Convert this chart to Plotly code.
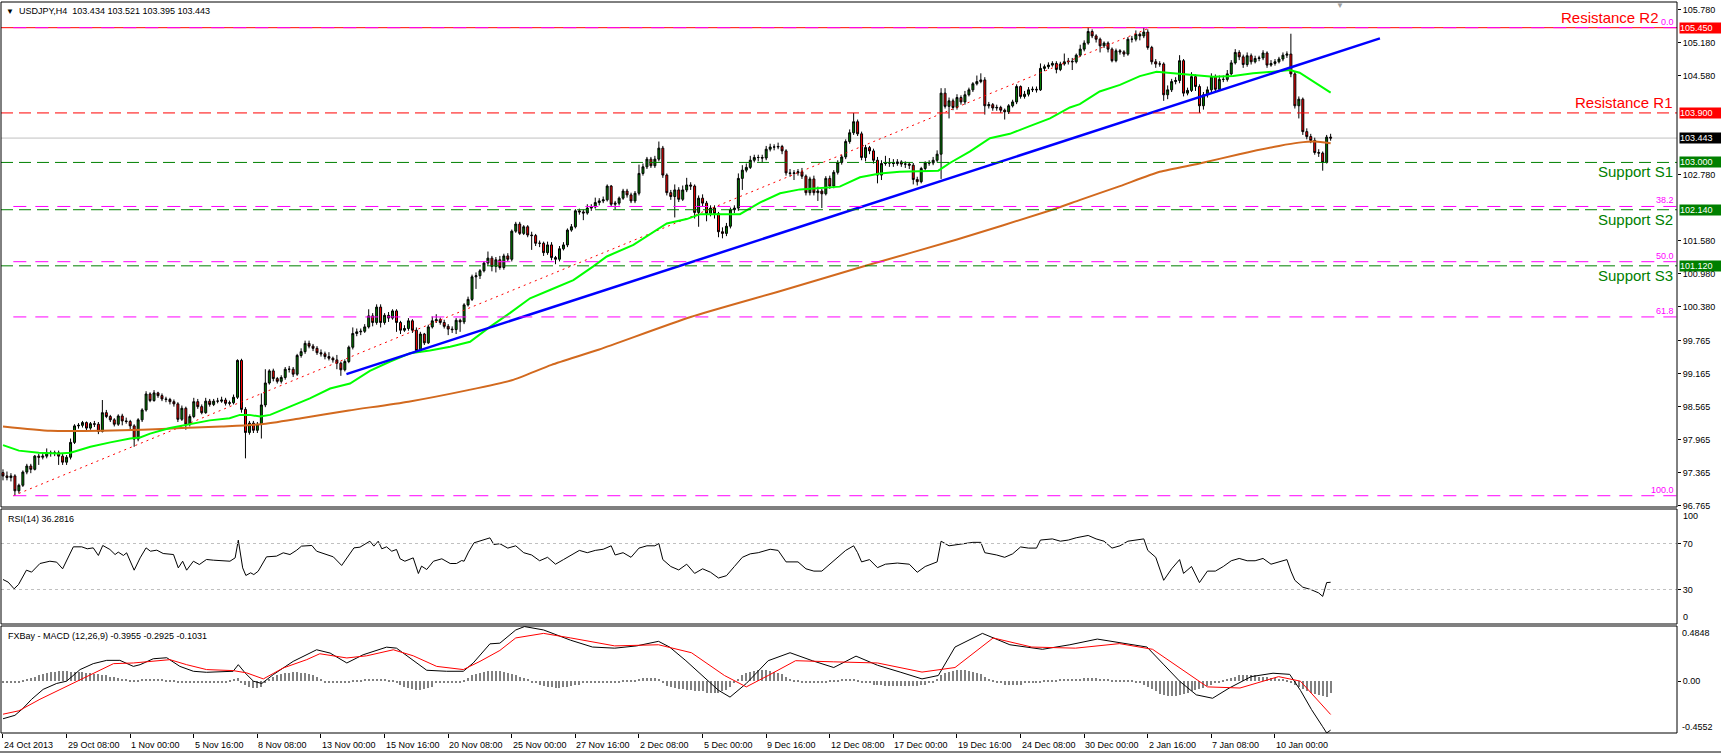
import plotly.graph_objects as go

# ---------------- data ----------------
first_open = 97.36
closes = [
    97.30, 97.27, 97.30, 97.03, 97.13, 97.37, 97.48, 97.42, 97.66, 97.64,
    97.66, 97.72, 97.71, 97.72, 97.66, 97.55, 97.64, 97.91, 98.21, 98.22,
    98.27, 98.17, 98.25, 98.24, 98.11, 98.45, 98.38, 98.32, 98.24, 98.39,
    98.30, 98.29, 98.21, 97.97, 98.32, 98.50, 98.79, 98.67, 98.81, 98.76,
    98.70, 98.69, 98.65, 98.61, 98.33, 98.53, 98.24, 98.38, 98.65, 98.56,
    98.45, 98.66, 98.60, 98.66, 98.66, 98.68, 98.62, 98.63, 98.73, 99.40,
    98.51, 98.09, 98.26, 98.13, 98.24, 98.59, 98.99, 99.21, 99.07, 99.02,
    99.09, 99.24, 99.24, 99.15, 99.49, 99.56, 99.71, 99.66, 99.62, 99.54,
    99.52, 99.47, 99.44, 99.41, 99.35, 99.23, 99.38, 99.64, 99.89, 99.92,
    99.93, 100.01, 100.21, 100.09, 100.37, 100.09, 100.22, 100.17, 100.30, 100.09,
    99.95, 99.98, 100.12, 99.95, 99.58, 99.88, 99.72, 100.01, 100.12, 100.14,
    100.09, 100.02, 99.97, 99.96, 100.13, 100.10, 100.41, 100.51, 100.92, 100.94,
    101.03, 101.17, 101.26, 101.11, 101.23, 101.09, 101.30, 101.24, 101.75, 101.88,
    101.71, 101.83, 101.68, 101.67, 101.53, 101.53, 101.36, 101.50, 101.27, 101.24,
    101.43, 101.50, 101.77, 101.83, 102.12, 102.10, 102.08, 102.17, 102.19, 102.27,
    102.30, 102.32, 102.57, 102.24, 102.26, 102.35, 102.48, 102.41, 102.30, 102.44,
    102.80, 102.92, 103.06, 102.94, 103.06, 103.26, 102.77, 102.45, 102.38, 102.50,
    102.33, 102.50, 102.59, 102.57, 102.09, 102.35, 102.26, 102.07, 102.17, 102.07,
    101.74, 101.71, 101.84, 102.14, 102.17, 102.71, 102.86, 102.91, 103.04, 103.09,
    103.09, 103.08, 103.24, 103.28, 103.28, 103.29, 103.21, 102.81, 102.80, 102.81,
    102.83, 102.75, 102.45, 102.70, 102.45, 102.48, 102.43, 102.71, 102.57, 102.82,
    103.00, 103.10, 103.38, 103.54, 103.74, 103.52, 103.09, 103.27, 103.21, 103.04,
    102.77, 102.98, 102.99, 102.99, 102.98, 103.01, 102.97, 102.97, 102.95, 102.69,
    102.65, 102.89, 102.99, 102.99, 103.04, 103.15, 104.26, 104.02, 104.12, 104.00,
    104.18, 104.10, 104.23, 104.32, 104.43, 104.47, 104.50, 104.03, 104.05, 103.99,
    104.00, 103.95, 103.92, 104.03, 104.10, 104.38, 104.20, 104.24, 104.32, 104.33,
    104.32, 104.71, 104.74, 104.77, 104.80, 104.69, 104.79, 104.83, 104.84, 104.83,
    104.95, 105.06, 105.17, 105.38, 105.30, 105.24, 105.12, 105.17, 105.06, 104.85,
    105.03, 105.01, 104.97, 105.24, 105.24, 105.33, 105.30, 105.37, 105.09, 104.83,
    104.79, 104.79, 104.23, 104.32, 104.47, 104.49, 104.85, 104.26, 104.31, 104.56,
    104.38, 104.03, 104.23, 104.32, 104.56, 104.33, 104.51, 104.51, 104.61, 104.81,
    105.00, 104.92, 104.78, 104.94, 104.83, 104.89, 104.90, 104.99, 104.77, 104.80,
    104.83, 104.88, 104.95, 104.97, 104.61, 104.03, 104.15, 103.56, 103.47, 103.40,
    103.18, 103.17, 103.00, 103.46, 103.443,
]
highs = [
    97.42, 97.38, 97.35, 97.33, 97.16, 97.40, 97.52, 97.52, 97.68, 97.70,
    97.72, 97.80, 97.76, 97.76, 97.76, 97.70, 97.68, 97.98, 98.24, 98.26,
    98.30, 98.29, 98.28, 98.30, 98.28, 98.68, 98.50, 98.41, 98.35, 98.42,
    98.43, 98.36, 98.32, 98.24, 98.35, 98.53, 98.84, 98.82, 98.86, 98.83,
    98.80, 98.74, 98.72, 98.69, 98.64, 98.58, 98.56, 98.42, 98.72, 98.70,
    98.60, 98.72, 98.70, 98.70, 98.72, 98.74, 98.72, 98.67, 98.78, 99.42,
    99.43, 98.55, 98.30, 98.30, 98.28, 98.80, 99.24, 99.24, 99.25, 99.10,
    99.13, 99.28, 99.30, 99.28, 99.52, 99.62, 99.76, 99.76, 99.70, 99.66,
    99.60, 99.56, 99.55, 99.47, 99.50, 99.38, 99.42, 99.67, 100.00, 99.98,
    99.98, 100.06, 100.33, 100.26, 100.42, 100.42, 100.26, 100.28, 100.33, 100.33,
    100.12, 100.04, 100.17, 100.15, 100.00, 99.92, 99.90, 100.05, 100.20, 100.24,
    100.18, 100.14, 100.06, 100.02, 100.17, 100.16, 100.44, 100.56, 100.96, 101.00,
    101.06, 101.20, 101.38, 101.30, 101.28, 101.30, 101.34, 101.35, 101.78, 101.92,
    101.92, 101.86, 101.86, 101.74, 101.70, 101.58, 101.56, 101.56, 101.55, 101.30,
    101.48, 101.55, 101.80, 101.88, 102.15, 102.16, 102.14, 102.24, 102.24, 102.36,
    102.35, 102.38, 102.60, 102.59, 102.30, 102.38, 102.52, 102.52, 102.45, 102.48,
    102.96, 102.98, 103.10, 103.10, 103.12, 103.38, 103.30, 102.80, 102.50, 102.60,
    102.55, 102.58, 102.72, 102.64, 102.60, 102.40, 102.42, 102.30, 102.22, 102.22,
    102.10, 101.82, 101.90, 102.18, 102.22, 102.80, 102.95, 102.98, 103.12, 103.14,
    103.14, 103.14, 103.30, 103.34, 103.33, 103.36, 103.32, 103.24, 102.88, 102.86,
    102.88, 102.90, 102.78, 102.74, 102.76, 102.56, 102.52, 102.75, 102.76, 102.86,
    103.04, 103.14, 103.42, 103.60, 103.90, 103.78, 103.56, 103.32, 103.30, 103.25,
    103.10, 103.04, 103.12, 103.08, 103.06, 103.06, 103.04, 103.02, 103.00, 102.99,
    102.74, 102.92, 103.02, 103.04, 103.10, 103.22, 104.35, 104.35, 104.18, 104.16,
    104.24, 104.22, 104.30, 104.36, 104.46, 104.58, 104.62, 104.55, 104.10, 104.08,
    104.05, 104.03, 103.98, 104.06, 104.14, 104.42, 104.40, 104.30, 104.37, 104.38,
    104.38, 104.80, 104.78, 104.82, 104.84, 104.84, 104.83, 104.98, 104.90, 104.90,
    104.98, 105.14, 105.22, 105.45, 105.42, 105.33, 105.27, 105.20, 105.20, 105.09,
    105.07, 105.06, 105.04, 105.28, 105.30, 105.40, 105.36, 105.45, 105.42, 105.12,
    104.88, 104.84, 104.82, 104.40, 104.52, 104.55, 104.95, 104.88, 104.36, 104.64,
    104.60, 104.42, 104.28, 104.38, 104.62, 104.60, 104.58, 104.58, 104.68, 104.86,
    105.06, 105.04, 104.96, 105.00, 104.98, 104.94, 104.94, 105.04, 105.02, 104.86,
    104.88, 104.92, 105.00, 105.02, 105.34, 104.65, 104.20, 104.18, 103.62, 103.52,
    103.45, 103.24, 103.20, 103.50, 103.521,
]
lows = [
    97.22, 97.22, 97.20, 96.94, 96.98, 97.10, 97.33, 97.35, 97.40, 97.50,
    97.60, 97.62, 97.65, 97.66, 97.50, 97.50, 97.50, 97.60, 97.88, 98.16,
    98.18, 98.13, 98.14, 98.19, 98.06, 98.09, 98.35, 98.28, 98.20, 98.21,
    98.22, 98.25, 98.15, 97.83, 97.93, 98.28, 98.47, 98.64, 98.65, 98.72,
    98.66, 98.64, 98.60, 98.56, 98.28, 98.30, 98.14, 98.20, 98.35, 98.52,
    98.42, 98.43, 98.56, 98.57, 98.62, 98.63, 98.58, 98.58, 98.60, 98.70,
    98.45, 97.62, 98.05, 98.08, 98.08, 97.98, 98.55, 98.96, 99.02, 98.98,
    98.98, 99.05, 99.18, 99.10, 99.12, 99.45, 99.52, 99.62, 99.57, 99.50,
    99.47, 99.42, 99.40, 99.36, 99.24, 99.12, 99.20, 99.35, 99.60, 99.84,
    99.86, 99.90, 99.98, 100.02, 100.05, 100.00, 100.05, 100.10, 100.14, 99.92,
    99.88, 99.92, 99.94, 99.90, 99.57, 99.55, 99.68, 99.70, 99.98, 100.08,
    100.05, 99.98, 99.86, 99.90, 99.88, 99.92, 100.06, 100.38, 100.48, 100.70,
    100.88, 101.00, 101.12, 101.02, 101.00, 101.05, 101.05, 101.20, 101.20, 101.72,
    101.68, 101.68, 101.64, 101.41, 101.48, 101.46, 101.30, 101.32, 101.22, 101.15,
    101.20, 101.40, 101.46, 101.74, 101.80, 102.05, 101.95, 102.05, 102.12, 102.16,
    102.22, 102.26, 102.29, 102.20, 102.14, 102.22, 102.32, 102.36, 102.26, 102.26,
    102.40, 102.76, 102.88, 102.90, 102.90, 103.02, 102.72, 102.40, 102.32, 102.00,
    102.28, 102.30, 102.46, 102.50, 101.98, 101.83, 102.20, 101.93, 102.02, 101.98,
    101.64, 101.62, 101.66, 101.80, 102.08, 102.12, 102.50, 102.82, 102.88, 103.00,
    103.02, 103.00, 103.04, 103.20, 103.22, 103.24, 103.15, 102.76, 102.74, 102.68,
    102.76, 102.70, 102.40, 102.40, 102.40, 102.30, 102.17, 102.40, 102.52, 102.53,
    102.78, 102.96, 103.06, 103.34, 103.50, 103.48, 103.04, 103.02, 103.15, 102.98,
    102.62, 102.68, 102.94, 102.92, 102.92, 102.94, 102.92, 102.90, 102.88, 102.60,
    102.58, 102.62, 102.85, 102.94, 102.95, 103.00, 102.70, 103.98, 103.80, 103.95,
    103.96, 104.05, 104.05, 104.20, 104.28, 104.40, 104.44, 103.87, 103.98, 103.94,
    103.94, 103.90, 103.78, 103.88, 104.00, 104.06, 104.16, 104.16, 104.20, 104.28,
    104.27, 104.30, 104.66, 104.70, 104.74, 104.62, 104.66, 104.76, 104.78, 104.68,
    104.80, 104.92, 105.02, 105.14, 105.26, 105.18, 105.00, 105.08, 105.00, 104.82,
    104.82, 104.96, 104.92, 104.94, 105.18, 105.20, 105.22, 105.26, 105.05, 104.78,
    104.72, 104.74, 104.12, 104.15, 104.28, 104.42, 104.44, 104.20, 104.22, 104.28,
    104.30, 103.90, 103.96, 104.18, 104.28, 104.28, 104.30, 104.46, 104.47, 104.58,
    104.78, 104.86, 104.72, 104.74, 104.78, 104.80, 104.84, 104.86, 104.72, 104.74,
    104.76, 104.80, 104.84, 104.90, 104.55, 103.98, 103.80, 103.50, 103.42, 103.35,
    103.14, 103.10, 102.85, 102.98, 103.395,
]
opens = [first_open] + closes[:-1]

# moving averages (read at sample bars)
ma_green_idx = [0, 4, 9, 14, 17, 22, 27, 32, 34.5, 37, 42, 47, 52, 57, 59.6, 62, 64.7, 67.2, 69.7,
                72.2, 77.2, 82.3, 87.3, 92.3, 97.4, 102.4, 107.4, 112.5, 117.5, 122.5, 127.5, 132.6,
                137.6, 143.5, 148.5, 151.9, 158.6, 163.6, 167, 172, 175.4, 180.4, 185.4, 190.4,
                195.5, 200.5, 205.5, 210.5, 215.6, 220.6, 225.6, 230.7, 235.3, 238.2, 243.3, 248.3,
                253.3, 258.3, 263.4, 268.4, 270.9, 275.9, 281, 286, 290.2, 294.4, 299.4, 304.4,
                309.5, 314.5, 319.5, 323.7, 326.2, 329.6, 333, 334]
ma_green_val = [97.86, 97.76, 97.72, 97.71, 97.72, 97.83, 97.91, 97.98, 98.00, 98.07, 98.17, 98.24,
                98.31, 98.35, 98.41, 98.41, 98.38, 98.41, 98.49, 98.56, 98.71, 98.89, 98.98, 99.21,
                99.38, 99.53, 99.58, 99.65, 99.74, 100.01, 100.26, 100.53, 100.68, 100.86, 101.11,
                101.29, 101.50, 101.74, 101.89, 101.97, 102.06, 102.06, 102.06, 102.27, 102.44,
                102.51, 102.53, 102.56, 102.73, 102.80, 102.83, 102.84, 102.85, 102.99, 103.20,
                103.44, 103.52, 103.66, 103.80, 104.00, 104.06, 104.29, 104.41, 104.57, 104.65,
                104.62, 104.59, 104.56, 104.57, 104.62, 104.65, 104.68, 104.63, 104.47, 104.32, 104.27]
ma_orange_idx = [0, 12, 25, 35, 45, 55, 65, 75, 87, 102, 117, 128, 138, 150, 173, 195, 217, 240,
                 264, 271, 281, 291, 301, 311, 321, 326, 330, 334]
ma_orange_val = [98.20, 98.12, 98.12, 98.14, 98.17, 98.20, 98.24, 98.35, 98.49, 98.65, 98.86, 99.04,
                 99.32, 99.60, 100.19, 100.65, 101.12, 101.60, 102.14, 102.32, 102.57, 102.83,
                 102.98, 103.15, 103.30, 103.36, 103.38, 103.35]

# RSI(14) read at sample bars
rsi_idx = [0, 1.3, 2.8, 3.9, 5.9, 7.2, 9.3, 11.8, 13.5, 15, 17.7, 19.8, 21.2, 22.7, 24, 25.1, 26.9,
           28.2, 29, 30.3, 31.1, 33, 34.5, 36, 37.1, 38.7, 40.3, 42.9, 44.1, 45.2, 46.2, 47.9, 49.4,
           51.2, 52.9, 57.1, 58.4, 59.2, 60.3, 61.1, 62.3, 63.1, 64.2, 66.3, 68.8, 70.5, 72.2, 73.9,
           75.1, 77.7, 78.9, 81.4, 83.1, 85.2, 86.9, 88.3, 89.8, 92.3, 93.3, 94.4, 95.3, 96.5, 97.8,
           99, 99.9, 101.1, 103.2, 104.5, 105.3, 106.6, 108.3, 110.4, 112.5, 114.1, 115.4, 116,
           117.1, 118.5, 122.5, 123.5, 125,
           127, 129, 131, 133, 135, 137, 139, 141, 143, 145, 147, 149, 151, 153, 154, 156, 158, 160,
           162, 164, 165, 166, 168, 170, 172, 174, 176, 178, 180, 182, 184, 186, 188, 190, 193, 195,
           197, 200, 202, 204, 206, 208, 210, 212, 214, 215, 216, 218, 220, 222, 225, 228, 230, 232,
           235, 236, 238, 240, 242, 244, 246, 247, 250, 252, 254, 256, 258, 260, 261, 264, 266, 268,
           270, 272, 273, 275, 277, 279, 281, 283, 285, 287, 288, 290, 292, 294, 296, 297, 299, 301,
           303, 305, 307, 309, 311, 313, 315, 317, 319, 321, 323, 324, 325, 327, 329, 331, 332, 333, 334]
rsi_val = [38.7, 36.4, 30.6, 34.3, 46.8, 45.1, 52.6, 54.6, 53.8, 48.0, 67.1, 67.1, 65.4, 66.2, 59.6,
           68.3, 64.8, 60.4, 62.5, 59.6, 61.9, 46.8, 57.5, 66.2, 63.3, 64.2, 61.3, 60.4, 48.8, 54.6,
           46.8, 54.6, 51.7, 56.1, 55.5, 54.6, 57.5, 72.9, 48.8, 42.2, 44.5, 43.0, 45.9, 58.4, 59.0,
           61.9, 60.4, 64.2, 67.7, 68.3, 63.3, 60.4, 58.4, 50.9, 59.0, 66.2, 66.8, 72.0, 67.7, 72.0,
           65.4, 67.1, 63.3, 64.8, 56.7, 54.6, 57.5, 43.9, 50.3, 47.4, 54.6, 56.7, 52.6, 52.6, 55.2,
           54.6, 62.5, 70.6, 74.9, 69.1, 69.8,
           66, 68, 62, 60, 55, 58, 52, 56, 60, 64, 62, 64, 65, 68, 60, 62, 58, 66,
           68, 68, 70, 56, 50, 47, 52, 44, 48, 45, 40, 42, 50, 58, 61, 62, 65, 64,
           54, 54, 48, 46, 46, 52, 58, 64, 68, 62, 54, 56, 49, 52, 53, 52, 45, 50,
           54, 72, 68, 69, 70, 71, 71, 62, 60, 58, 61, 67, 66, 66, 73, 74, 72, 73,
           75, 76, 77, 74, 72, 66, 68, 72, 73, 74, 64, 58, 38, 48, 56, 44, 50, 36,
           46, 46, 50, 55, 57, 55, 55, 57, 52, 54, 56, 46, 38, 32, 30, 27, 24, 36, 36.28]

# MACD (12,26,9) main and signal read at sample bars
macd_idx = [0, 3, 5, 7.2, 10.1, 13.5, 16, 19.4, 22.7, 26.1, 29.4, 32.8, 34.5, 37.8, 41.2, 44.5, 47.9,
            51.2, 57.9, 59.2, 60.9, 63, 65.1, 68, 73, 78.9, 82.3, 86.5, 90.6, 96.5, 99, 102.4, 106.6,
            111.6, 115.8, 118.3, 122.5, 125, 129, 131.2, 136, 142.8, 148.3, 153.9, 159.4, 164.9,
            167.7, 171.8, 176, 180, 182.9, 187, 192.5, 198, 203.6, 209, 214.6, 220, 225.7, 231.2,
            235.3, 239.5, 246.4, 253.3, 261.5, 268.4, 275.3, 282.3, 287.8, 291.9, 296, 300.2,
            304.3, 308.5, 314, 319.5, 323.7, 326.4, 329.2, 332, 333, 334]
macd_val = [-0.33, -0.30, -0.24, -0.159, -0.072, -0.02, 0.0, 0.102, 0.154, 0.183, 0.183, 0.13, 0.145,
            0.197, 0.206, 0.13, 0.087, 0.078, 0.087, 0.145, 0.073, 0.0, -0.02, 0.058, 0.174, 0.276,
            0.247, 0.16, 0.232, 0.299, 0.29, 0.204, 0.096, 0.087, 0.087, 0.16, 0.328, 0.334, 0.45,
            0.48, 0.45, 0.36, 0.30, 0.29, 0.31, 0.35, 0.30, 0.18, 0.05, -0.08, -0.14, -0.02, 0.18,
            0.25, 0.18, 0.12, 0.22, 0.14, 0.08, 0.02, 0.05, 0.30, 0.42, 0.32, 0.28, 0.32, 0.37,
            0.33, 0.30, 0.15, 0.0, -0.12, -0.15, -0.06, 0.04, 0.07, 0.06, -0.08, -0.25, -0.40,
            -0.455, -0.43]
signal_idx = [0, 4, 9.3, 16, 22.7, 27.8, 32.8, 37.8, 42, 46.2, 51.2, 57.9, 61.3, 65.5, 70.5, 76.4,
              79.7, 86.5, 91.5, 98.2, 103.2, 109.1, 115.8, 120, 125, 129, 136, 142.8, 153.9, 164.9,
              173.2, 181.5, 187, 192.5, 199.4, 209, 220, 231.2, 239.5, 249.1, 258.8, 269.8, 280.9,
              289.2, 297.4, 303, 311.2, 320.9, 326.4, 334]
signal_val = [-0.29, -0.26, -0.159, -0.043, 0.073, 0.154, 0.16, 0.174, 0.189, 0.145, 0.102, 0.093,
              0.073, 0.02, 0.116, 0.189, 0.241, 0.204, 0.223, 0.276, 0.223, 0.13, 0.102, 0.174,
              0.27, 0.38, 0.42, 0.38, 0.31, 0.32, 0.25, 0.05, -0.05, 0.05, 0.18, 0.17, 0.16, 0.08,
              0.12, 0.38, 0.30, 0.29, 0.33, 0.28, 0.08, -0.05, -0.06, 0.04, 0.0, -0.2925]
# MACD histogram, one value per bar
macd_hist = [
    -0.01, -0.01, -0.01, -0.01, -0.01, 0.01, 0.02, 0.03, 0.04, 0.05, 0.06, 0.07, 0.08, 0.08, 0.09, 0.09,
    0.09, 0.08, 0.08, 0.08, 0.08, 0.07, 0.07, 0.06, 0.06, 0.05, 0.05, 0.04, 0.04, 0.03, 0.02, 0.02,
    0.01, 0.01, 0.01, 0.02, 0.02, 0.02, 0.02, 0.02, 0.02, 0.01, 0.01, 0.01, -0.01, -0.02, -0.02, -0.02,
    -0.02, -0.02, -0.02, -0.02, -0.01, -0.01, -0.01, -0.01, -0.01, 0.01, 0.02, 0.03, -0.01, -0.03, -0.05, -0.06,
    -0.06, -0.05, -0.02, 0.02, 0.04, 0.05, 0.06, 0.07, 0.07, 0.08, 0.08, 0.07, 0.07, 0.06, 0.05, 0.04,
    0.02, -0.01, -0.01, -0.02, -0.02, -0.02, -0.01, -0.01, 0.01, 0.01, 0.01, 0.02, 0.02, 0.02, 0.02, 0.02,
    0.02, 0.01, 0.01, -0.01, -0.03, -0.05, -0.06, -0.07, -0.08, -0.08, -0.07, -0.06, -0.05, -0.02, -0.01, -0.01,
    -0.01, -0.01, -0.01, -0.01, 0.01, 0.03, 0.05, 0.06, 0.07, 0.08, 0.09, 0.09, 0.09, 0.09, 0.08, 0.07,
    0.06, 0.05, 0.04, 0.03, 0.02, -0.01, -0.02, -0.03, -0.04, -0.05, -0.05, -0.06, -0.06, -0.05, -0.05, -0.04,
    -0.03, -0.03, -0.02, -0.02, -0.02, -0.02, -0.01, -0.01, -0.01, -0.01, -0.01, -0.01, 0.01, 0.01, 0.01, 0.01,
    0.02, 0.03, 0.03, 0.03, 0.03, 0.02, -0.02, -0.04, -0.05, -0.06, -0.07, -0.07, -0.08, -0.08, -0.09, -0.09,
    -0.09, -0.10, -0.10, -0.10, -0.10, -0.09, -0.08, -0.05, -0.02, 0.02, 0.05, 0.07, 0.08, 0.09, 0.10, 0.10,
    0.10, 0.09, 0.08, 0.07, 0.06, 0.04, 0.02, 0.01, 0.01, -0.01, -0.01, -0.02, -0.02, -0.02, -0.01, -0.01,
    0.01, 0.01, 0.01, 0.02, 0.02, 0.02, 0.02, 0.01, -0.01, -0.02, -0.02, -0.03, -0.03, -0.03, -0.04, -0.04,
    -0.04, -0.04, -0.04, -0.04, -0.04, -0.04, -0.04, -0.03, -0.03, -0.02, -0.01, 0.02, 0.05, 0.07, 0.08, 0.09,
    0.10, 0.10, 0.10, 0.09, 0.08, 0.07, 0.06, 0.04, 0.02, 0.01, -0.01, -0.02, -0.03, -0.03, -0.03, -0.03,
    -0.03, -0.02, -0.02, -0.02, -0.01, -0.01, 0.01, 0.01, 0.01, 0.01, 0.02, 0.02, 0.02, 0.02, 0.02, 0.02,
    0.03, 0.03, 0.03, 0.03, 0.02, 0.02, 0.02, 0.01, 0.01, 0.01, 0.01, 0.01, 0.01, -0.01, -0.02, -0.03,
    -0.05, -0.07, -0.09, -0.11, -0.12, -0.13, -0.13, -0.13, -0.12, -0.11, -0.10, -0.09, -0.08, -0.07, -0.06, -0.04,
    -0.03, -0.02, -0.01, 0.01, 0.02, 0.03, 0.04, 0.05, 0.05, 0.05, 0.05, 0.05, 0.04, 0.04, 0.04, 0.03,
    0.03, 0.02, 0.02, 0.01, -0.01, -0.03, -0.05, -0.07, -0.09, -0.10, -0.11, -0.12, -0.13, -0.14, -0.10,
]

# drawing objects
resistance_levels = [105.45, 103.90]
resistance_names = ["Resistance R2", "Resistance R1"]
support_levels = [103.00, 102.14, 101.12]
support_names = ["Support S1", "Support S2", "Support S3"]
fib_high, fib_low = 105.45, 96.94
fib_ratios = [0.0, 38.2, 50.0, 61.8, 100.0]
fib_start_bar, fib_end_bar = 2.6, 288.6
trend_x = [86.4, 346.4]
trend_y = [99.15, 105.255]
last_price = 103.443

# price-scale labels (the ones hidden behind the coloured level boxes are left out)
price_ticks = [105.78, 105.18, 104.58, 102.78, 101.58, 100.98, 100.38,
               99.765, 99.165, 98.565, 97.965, 97.365, 96.765]
time_labels = ["24 Oct 2013", "29 Oct 08:00", "1 Nov 00:00", "5 Nov 16:00", "8 Nov 08:00",
               "13 Nov 00:00", "15 Nov 16:00", "20 Nov 08:00", "25 Nov 00:00", "27 Nov 16:00",
               "2 Dec 08:00", "5 Dec 00:00", "9 Dec 16:00", "12 Dec 08:00", "17 Dec 00:00",
               "19 Dec 16:00", "24 Dec 08:00", "30 Dec 00:00", "2 Jan 16:00", "7 Jan 08:00",
               "10 Jan 00:00"]
bars_per_label = 16

# ---------------- figure ----------------
W, H = 1721, 754
ML, MR, MT, MB = 1, 44, 2, 21
PW, PH = W - ML - MR, H - MT - MB


def px(xp):
    return (xp - ML) / PW


def py(yp):
    return (H - MB - yp) / PH


FONT = "Liberation Sans"
N = len(closes)
idx = list(range(N))
bar_px = 3.975
x_range = [-0.5, -0.5 + PW / bar_px]

dom_main = [py(507), 1.0]
dom_rsi = [py(624), py(509)]
dom_macd = [0.0, py(626)]

fig = go.Figure()
fig.add_trace(go.Candlestick(
    x=idx, open=opens, high=highs, low=lows, close=closes,
    increasing=dict(fillcolor="#008000", line=dict(color="black", width=1)),
    decreasing=dict(fillcolor="#FF0000", line=dict(color="black", width=1)),
    whiskerwidth=0, xaxis="x", yaxis="y", hoverinfo="skip"))
fig.add_trace(go.Scatter(x=[fib_start_bar, fib_end_bar], y=[fib_low, fib_high], mode="lines",
                         line=dict(color="#FF0000", width=1, dash="2px,4px"), xaxis="x", yaxis="y"))
fig.add_trace(go.Scatter(x=ma_orange_idx, y=ma_orange_val, mode="lines",
                         line=dict(color="#D2691E", width=2, shape="spline", smoothing=0.6),
                         xaxis="x", yaxis="y"))
fig.add_trace(go.Scatter(x=ma_green_idx, y=ma_green_val, mode="lines",
                         line=dict(color="#00FF00", width=2), xaxis="x", yaxis="y"))
fig.add_trace(go.Scatter(x=trend_x, y=trend_y, mode="lines",
                         line=dict(color="#0000FF", width=2.5), xaxis="x", yaxis="y"))
fig.add_trace(go.Scatter(x=rsi_idx, y=rsi_val, mode="lines",
                         line=dict(color="black", width=1), xaxis="x2", yaxis="y2"))
fig.add_trace(go.Bar(x=idx, y=macd_hist, width=0.25, marker=dict(color="#808080", line=dict(width=0)),
                     xaxis="x3", yaxis="y3"))
fig.add_trace(go.Scatter(x=macd_idx, y=macd_val, mode="lines",
                         line=dict(color="black", width=1), xaxis="x3", yaxis="y3"))
fig.add_trace(go.Scatter(x=signal_idx, y=signal_val, mode="lines",
                         line=dict(color="#FF0000", width=1), xaxis="x3", yaxis="y3"))

shapes = []
# level lines
shapes.append(dict(type="line", xref="x domain", yref="y", x0=0, x1=1, y0=last_price, y1=last_price,
                   line=dict(color="#C0C0C0", width=1), layer="below"))
shapes.append(dict(type="line", xref="x domain", yref="y", x0=0, x1=1, y0=resistance_levels[0],
                   y1=resistance_levels[0], line=dict(color="#FF0000", width=1)))
shapes.append(dict(type="line", xref="x domain", yref="y", x0=0, x1=1, y0=resistance_levels[1],
                   y1=resistance_levels[1], line=dict(color="#FF0000", width=1, dash="12px,6px")))
for lv in support_levels:
    shapes.append(dict(type="line", xref="x domain", yref="y", x0=0, x1=1, y0=lv, y1=lv,
                       line=dict(color="#008000", width=1, dash="12px,6px")))
for r in fib_ratios:
    lv = fib_high - (fib_high - fib_low) * r / 100
    shapes.append(dict(type="line", xref="x", yref="y", x0=fib_start_bar, x1=x_range[1], y0=lv, y1=lv,
                       line=dict(color="#FF00FF", width=1, dash="13px,9px")))
# RSI levels
for lv in [70, 30]:
    shapes.append(dict(type="line", xref="x2 domain", yref="y2", x0=0, x1=1, y0=lv, y1=lv,
                       line=dict(color="#C0C0C0", width=1, dash="3px,3px")))
# pane borders
for dom in [dom_main, dom_rsi, dom_macd]:
    shapes.append(dict(type="rect", xref="paper", yref="paper", x0=0, x1=1, y0=dom[0], y1=dom[1],
                       line=dict(color="black", width=1), fillcolor="rgba(0,0,0,0)"))
# bottom window edge
shapes.append(dict(type="line", xref="paper", yref="paper", x0=px(0), x1=px(W), y0=py(752), y1=py(752),
                   line=dict(color="black", width=1)))

ann = []
ann.append(dict(xref="paper", yref="paper", x=px(4), y=py(11.5), xanchor="left", yanchor="middle",
                text="▼", showarrow=False, font=dict(family=FONT, size=8, color="black")))
ann.append(dict(xref="paper", yref="paper", x=px(17), y=py(11.5), xanchor="left", yanchor="middle",
                text="USDJPY,H4  103.434 103.521 103.395 103.443", showarrow=False,
                font=dict(family=FONT, size=9, color="black")))
ann.append(dict(xref="paper", yref="paper", x=px(6), y=py(518.5), xanchor="left", yanchor="middle",
                text="RSI(14) 36.2816", showarrow=False, font=dict(family=FONT, size=9, color="black")))
ann.append(dict(xref="paper", yref="paper", x=px(6), y=py(636), xanchor="left", yanchor="middle",
                text="FXBay - MACD (12,26,9) -0.3955 -0.2925 -0.1031", showarrow=False,
                font=dict(family=FONT, size=9, color="black")))
ann.append(dict(xref="paper", yref="paper", x=px(1340), y=py(5), xanchor="center", yanchor="middle",
                text="▼", showarrow=False, font=dict(family=FONT, size=8, color="#A0A0A0")))

# level texts
ann.append(dict(xref="paper", yref="y", x=px(1661), y=resistance_levels[0], xanchor="right",
                yanchor="bottom", yshift=0, text=resistance_names[0], showarrow=False,
                font=dict(family=FONT, size=15, color="#FF0000")))
ann.append(dict(xref="paper", yref="y", x=px(1675), y=resistance_levels[1], xanchor="right",
                yanchor="bottom", yshift=0, text=resistance_names[1], showarrow=False,
                font=dict(family=FONT, size=15, color="#FF0000")))
for lv, name in zip(support_levels, support_names):
    ann.append(dict(xref="paper", yref="y", x=px(1675), y=lv, xanchor="right", yanchor="top",
                    yshift=1, text=name, showarrow=False, font=dict(family=FONT, size=15, color="#008000")))
for r in fib_ratios:
    lv = fib_high - (fib_high - fib_low) * r / 100
    ann.append(dict(xref="paper", yref="y", x=px(1676), y=lv, xanchor="right", yanchor="bottom",
                    yshift=-1, text=f"{r:.1f}", showarrow=False,
                    font=dict(family=FONT, size=9, color="#FF00FF")))

# coloured price boxes on the axis
boxes = [(resistance_levels[0], "#FF0000"), (resistance_levels[1], "#FF0000"), (last_price, "#000000"),
         (support_levels[0], "#008000"), (support_levels[1], "#008000"), (support_levels[2], "#008000")]
for lv, col in boxes:
    ann.append(dict(xref="paper", yref="y", x=px(1679), y=lv, xanchor="left", yanchor="middle",
                    text=f"{lv:.3f}", showarrow=False, bgcolor=col, width=41, height=10, align="left",
                    borderpad=0, font=dict(family=FONT, size=9, color="white")))

# RSI / MACD end labels
for txt, ypix in [("100", 516), ("0", 617)]:
    ann.append(dict(xref="paper", yref="paper", x=px(1681), y=py(ypix), xanchor="left", yanchor="middle",
                    text=txt, showarrow=False, font=dict(family=FONT, size=9, color="black")))
for txt, ypix in [("0.4848", 633), ("-0.4552", 726.5)]:
    ann.append(dict(xref="paper", yref="paper", x=px(1680), y=py(ypix), xanchor="left", yanchor="middle",
                    text=txt, showarrow=False, font=dict(family=FONT, size=9, color="black")))

# time labels
for k, lab in enumerate(time_labels):
    ann.append(dict(xref="x3", yref="paper", x=k * bars_per_label, y=py(744.5), xanchor="left",
                    yanchor="middle", xshift=-1, text=lab, showarrow=False,
                    font=dict(family=FONT, size=9, color="black")))

axis_common = dict(showgrid=False, zeroline=False, showline=False)
fig.update_layout(
    width=W, height=H, margin=dict(l=ML, r=MR, t=MT, b=MB),
    paper_bgcolor="white", plot_bgcolor="white", showlegend=False, hovermode=False,
    bargap=0,
    xaxis=dict(domain=[0, 1], anchor="y", range=x_range, showticklabels=False, ticks="",
               rangeslider=dict(visible=False), **axis_common),
    xaxis2=dict(domain=[0, 1], anchor="y2", range=x_range, matches="x", showticklabels=False,
                ticks="", **axis_common),
    xaxis3=dict(domain=[0, 1], anchor="y3", range=x_range, matches="x", showticklabels=False,
                ticks="outside", ticklen=4, tickcolor="black", tickwidth=1,
                tickvals=[k * bars_per_label for k in range(len(time_labels))], **axis_common),
    yaxis=dict(domain=dom_main, anchor="x", side="right", range=[96.735, 105.917],
               tickvals=price_ticks, ticktext=[f"{v:.3f}" for v in price_ticks],
               ticks="outside", ticklen=3, tickcolor="black",
               tickfont=dict(family=FONT, size=9, color="black"), **axis_common),
    yaxis2=dict(domain=dom_rsi, anchor="x2", side="right", range=[0, 100], tickvals=[70, 30],
                ticktext=["70", "30"], ticks="outside", ticklen=3, tickcolor="black",
                tickfont=dict(family=FONT, size=9, color="black"), **axis_common),
    yaxis3=dict(domain=dom_macd, anchor="x3", side="right", range=[-0.4552, 0.4848], tickvals=[0],
                ticktext=["0.00"], ticks="outside", ticklen=3, tickcolor="black",
                tickfont=dict(family=FONT, size=9, color="black"), **axis_common),
    shapes=shapes, annotations=ann,
)

fig.write_html("out.html")
